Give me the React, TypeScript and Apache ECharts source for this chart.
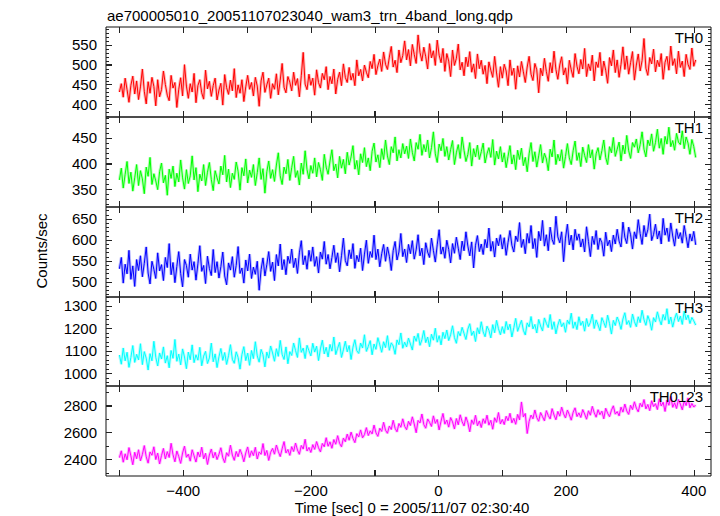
import React, { useEffect, useRef } from "react";
import * as echarts from "echarts";

const TITLE = "ae700005010_20051107023040_wam3_trn_4band_long.qdp";
const X_NAME = "Time [sec] 0 = 2005/11/07 02:30:40";
const Y_NAME = "Counts/sec";

const TIME_START = -500;
const TIME_STEP = 3;
const X_MIN = -521;
const X_MAX = 427;
const X_TICKS = [-500, -400, -300, -200, -100, 0, 100, 200, 300, 400];
const X_LABELS = [-400, -200, 0, 200, 400];

const BANDS = ["TH0", "TH1", "TH2", "TH3", "TH0123"];

const TH0 = [
  431, 452, 418, 466, 437, 405, 448, 471, 426, 459,
  412, 444, 489, 433, 401, 457, 428, 468, 445, 396,
  462, 419, 437, 484, 450, 423, 409, 473, 441, 455,
  392, 438, 467, 421, 500, 446, 415, 452, 431, 478,
  404, 447, 462, 429, 413, 486, 439, 458, 420, 447,
  466, 411, 436, 453, 398, 475, 442, 425, 461, 434,
  490, 417, 449, 428, 462, 407, 444, 473, 438, 455,
  421, 468, 446, 395, 459, 481, 430, 449, 466, 415,
  452, 438, 477, 424, 461, 503, 443, 429, 470, 456,
  434, 481, 448, 465, 419, 472, 531, 451, 437, 476,
  448, 466, 423, 487, 455, 441, 478, 462, 495, 437,
  470, 452, 489, 426, 463, 481, 447, 502, 468, 455,
  493, 461, 478, 447, 512, 472, 488, 459, 499, 481,
  467, 508, 490, 526, 475, 497, 514, 483, 532, 501,
  488, 519, 546, 494, 511, 480, 537, 505, 523, 560,
  512, 538, 497, 551, 526, 503, 575, 531, 509, 544,
  520, 489, 553, 517, 535, 498, 562, 524, 505, 541,
  483, 528, 509, 470, 537, 498, 516, 552, 487, 506,
  472, 519, 495, 533, 481, 502, 465, 527, 490, 511,
  476, 498, 452, 507, 486, 468, 521, 479, 443, 495,
  466, 501, 484, 447, 512, 473, 491, 438, 497, 469,
  508, 482, 455, 494, 521, 476, 460, 503, 487, 429,
  491, 472, 516, 483, 458, 505, 479, 534, 488, 463,
  499, 520, 474, 492, 451, 511, 487, 468, 528, 496,
  477, 513, 489, 541, 470, 502, 485, 524, 459, 507,
  493, 531, 472, 509, 486, 453, 518, 497, 537, 480,
  512, 468, 501, 545, 488, 522, 476, 505, 533, 461,
  499, 527, 484, 510, 566, 491, 473, 518, 502, 539,
  482, 511, 495, 528, 463, 506, 521, 486, 547, 498,
  515, 477, 534, 493, 509, 470, 526, 501, 488, 542,
  496, 512,
];

const TH1 = [
  368, 391, 352, 379, 404, 361, 383, 346, 372, 398,
  357, 386, 370, 341, 393, 375, 412, 359, 380, 366,
  349, 384, 401, 362, 377, 338, 389, 371, 395, 355,
  381, 364, 407, 372, 350, 388, 361, 376, 415, 368,
  392, 345, 379, 366, 398, 357, 383, 402, 369, 347,
  386, 372, 360, 395, 378, 416, 364, 389, 353, 381,
  369, 403, 385, 348, 392, 376, 409, 362, 387, 373,
  398, 357, 382, 411, 369, 390, 342, 384, 405, 371,
  388, 365, 397, 421, 376, 359, 393, 380, 408, 367,
  392, 414, 373, 386, 358, 401, 379, 425, 388, 370,
  396, 381, 411, 374, 402, 388, 367, 418, 393, 379,
  405, 427, 386, 399, 372, 414, 391, 408, 380, 422,
  397, 413, 435, 389, 406, 378, 419, 402, 431, 394,
  411, 386, 424, 440, 403, 417, 392, 429, 408, 446,
  415, 398, 433, 421, 452, 405, 427, 411, 439, 419,
  434, 410, 448, 422, 405, 441, 428, 457, 416, 437,
  423, 446, 411, 431, 462, 419, 402, 438, 425, 449,
  414, 433, 407, 427, 445, 398, 421, 437, 410, 452,
  426, 404, 418, 441, 395, 429, 413, 436, 408, 423,
  440, 401, 419, 431, 412, 447, 397, 424, 409, 433,
  403, 421, 392, 414, 435, 399, 417, 388, 426, 408,
  430, 396, 412, 384, 419, 441, 404, 423, 393, 415,
  437, 401, 420, 409, 386, 428, 413, 446, 398, 418,
  405, 427, 391, 414, 439, 411, 398, 425, 444, 406,
  421, 394, 432, 416, 402, 437, 411, 427, 389, 419,
  431, 407, 425, 446, 412, 398, 433, 421, 451, 414,
  428, 442, 405, 436, 419, 455, 425, 410, 441, 432,
  448, 421, 437, 462, 428, 413, 446, 435, 458, 424,
  441, 467, 430, 449, 418, 453, 438, 471, 433, 445,
  426, 459, 442, 437, 464, 429, 452, 440, 418, 447,
  433, 412,
];

const TH2 = [
  531, 558, 497, 542, 519, 575, 506, 538, 489, 553,
  527, 562, 512, 544, 583, 521, 495, 549, 530, 508,
  569, 526, 541, 503, 558, 534, 591, 517, 546, 498,
  537, 572, 520, 488, 553, 539, 511, 566, 528, 548,
  504, 543, 586, 525, 539, 496, 561, 532, 515, 577,
  522, 548, 509, 536, 571, 514, 493, 545, 528, 560,
  511, 539, 584, 520, 533, 497, 552, 526, 566, 508,
  535, 518, 549, 480, 529, 557, 514, 541, 572, 525,
  547, 503, 565, 538, 590, 529, 553, 517, 561, 544,
  578, 534, 556, 520, 569, 598, 541, 562, 530, 575,
  549, 583, 537, 560, 521, 571, 554, 596, 542, 565,
  531, 558, 587, 546, 569, 524, 562, 604, 551, 538,
  576, 555, 591, 532, 563, 548, 580, 527, 566, 599,
  544, 572, 558, 611, 553, 578, 536, 567, 589, 549,
  583, 561, 527, 574, 596, 552, 571, 615, 560, 578,
  546, 589, 567, 598, 554, 576, 612, 562, 580, 541,
  593, 571, 558, 604, 575, 547, 588, 624, 566, 583,
  556, 599, 577, 545, 591, 568, 606, 580, 553, 597,
  574, 619, 585, 562, 595, 533, 587, 610, 572, 590,
  565, 601, 581, 628, 573, 596, 559, 604, 586, 612,
  578, 605, 563, 594, 622, 587, 571, 609, 596, 641,
  582, 601, 567, 615, 592, 634, 579, 603, 558, 620,
  598, 646, 585, 612, 574, 630, 601, 589, 656, 607,
  593, 619, 548, 604, 637, 588, 611, 576, 625, 599,
  614, 583, 602, 571, 631, 596, 560, 608, 589, 622,
  577, 604, 593, 561, 618, 586, 599, 572, 611, 590,
  625, 597, 583, 642, 606, 591, 630, 612, 578, 619,
  603, 648, 615, 589, 634, 607, 624, 661, 598, 613,
  637, 602, 621, 590, 651, 611, 628, 596, 640, 609,
  585, 626, 603, 617, 592, 634, 608, 581, 614, 597,
  620, 588,
];

const TH3 = [
  1082, 1041, 1113, 1056, 1094, 1027, 1071, 1124, 1049, 1085,
  1060, 1132, 1039, 1097, 1068, 1015, 1088, 1056, 1143, 1072,
  1033, 1091, 1064, 1118, 1046, 1079, 1025, 1102, 1067, 1151,
  1054, 1086, 1038, 1109, 1073, 1021, 1095, 1061, 1127, 1048,
  1083, 1059, 1116, 1034, 1077, 1098, 1044, 1069, 1135, 1052,
  1087, 1026, 1074, 1111, 1058, 1093, 1040, 1079, 1128, 1063,
  1045, 1096, 1071, 1019, 1084, 1119, 1057, 1090, 1036, 1102,
  1066, 1141, 1078, 1050, 1107, 1083, 1029, 1095, 1068, 1122,
  1091, 1054, 1110, 1076, 1147, 1085, 1062, 1118, 1043, 1097,
  1080, 1135, 1102, 1071, 1158, 1094, 1113, 1066, 1125, 1101,
  1078, 1134, 1095, 1121, 1057, 1109, 1148, 1087, 1116, 1073,
  1129, 1099, 1162, 1084, 1112, 1138, 1071, 1105, 1143, 1096,
  1124, 1062, 1117, 1150, 1101, 1089, 1135, 1113, 1172, 1098,
  1120, 1146, 1083, 1131, 1107, 1159, 1127, 1094, 1141, 1115,
  1168, 1103, 1136, 1122, 1085, 1149, 1128, 1180, 1112, 1139,
  1118, 1157, 1131, 1104, 1166, 1143, 1178, 1125, 1150, 1191,
  1137, 1162, 1119, 1174, 1148, 1201, 1139, 1168, 1127, 1183,
  1155, 1193, 1146, 1172, 1212, 1160, 1134, 1186, 1167, 1205,
  1178, 1151, 1197, 1221, 1169, 1188, 1142, 1203, 1176, 1230,
  1185, 1163, 1210, 1192, 1158, 1217, 1181, 1236, 1199, 1172,
  1208, 1178, 1231, 1194, 1219, 1162, 1203, 1245, 1187, 1213,
  1236, 1192, 1171, 1225, 1207, 1253, 1198, 1218, 1180, 1240,
  1211, 1189, 1247, 1223, 1204, 1262, 1196, 1230, 1176, 1215,
  1241, 1208, 1225, 1183, 1237, 1219, 1268, 1201, 1229, 1195,
  1252, 1214, 1232, 1188, 1244, 1209, 1227, 1263, 1200, 1238,
  1216, 1190, 1248, 1227, 1204, 1259, 1222, 1175, 1236, 1213,
  1251, 1229, 1196, 1242, 1270, 1218, 1235, 1205, 1264, 1231,
  1208, 1252, 1226, 1281, 1239, 1214, 1257, 1233, 1192, 1248,
  1229, 1274, 1241, 1216, 1262, 1237, 1288, 1220, 1251, 1206,
  1243, 1268, 1231, 1255, 1218, 1277, 1239, 1260, 1222, 1249,
  1234, 1215,
];

const TH0123 = [
  2412, 2463, 2378, 2441, 2396, 2487, 2425, 2359, 2452, 2404,
  2471, 2388, 2436, 2502, 2419, 2371, 2455, 2430, 2493, 2398,
  2446, 2365, 2428, 2481, 2402, 2457, 2413, 2519, 2434, 2381,
  2462, 2420, 2369, 2447, 2498, 2415, 2438, 2386, 2471, 2426,
  2379, 2454, 2417, 2490, 2403, 2445, 2361, 2432, 2476, 2410,
  2452, 2398, 2437, 2486, 2411, 2375, 2449, 2423, 2505, 2431,
  2392, 2458, 2419, 2474, 2436, 2381, 2447, 2492, 2414, 2463,
  2427, 2489, 2402, 2455, 2437, 2517, 2428, 2466, 2391, 2452,
  2481, 2438, 2506, 2459, 2420, 2478, 2532, 2447, 2473, 2429,
  2494, 2458, 2521, 2469, 2437, 2503, 2476, 2549, 2462, 2488,
  2451, 2509, 2474, 2532, 2486, 2455, 2518, 2493, 2561, 2497,
  2530, 2482, 2547, 2512, 2576, 2519, 2493, 2558, 2531, 2588,
  2542, 2603, 2556, 2524, 2591, 2567, 2619, 2560, 2584, 2636,
  2577, 2612, 2589, 2655, 2598, 2571, 2632, 2608, 2676, 2617,
  2594, 2648, 2622, 2691, 2631, 2605, 2667, 2639, 2702, 2646,
  2621, 2683, 2652, 2717, 2664, 2598, 2690, 2671, 2738, 2659,
  2632, 2701, 2676, 2645, 2724, 2668, 2697, 2619, 2685, 2742,
  2662, 2693, 2640, 2711, 2679, 2626, 2704, 2657, 2732, 2681,
  2649, 2716, 2673, 2605, 2694, 2661, 2728, 2650, 2686, 2637,
  2702, 2668, 2729, 2655, 2691, 2624, 2710, 2676, 2749, 2664,
  2697, 2659, 2721, 2688, 2743, 2672, 2705, 2661, 2735, 2694,
  2828, 2716, 2742, 2592, 2683, 2730, 2702, 2768, 2711, 2684,
  2749, 2718, 2687, 2763, 2726, 2701, 2778, 2731, 2695, 2757,
  2722, 2789, 2740, 2708, 2767, 2733, 2692, 2751, 2784, 2719,
  2746, 2712, 2771, 2738, 2699, 2762, 2729, 2795, 2748, 2714,
  2770, 2733, 2759, 2702, 2781, 2744, 2718, 2766, 2799, 2737,
  2756, 2724, 2789, 2752, 2812, 2761, 2735, 2803, 2771, 2829,
  2782, 2754, 2818, 2791, 2846, 2776, 2809, 2763, 2837, 2794,
  2815, 2771, 2852, 2798, 2826, 2757, 2841, 2803, 2869, 2788,
  2822, 2779, 2846, 2812, 2769, 2835, 2801, 2858, 2784, 2817,
  2790, 2806,
];

const SERIES_VALUES = [TH0, TH1, TH2, TH3, TH0123];

const Y_MINS = [368, 315, 464, 944, 2275];
const Y_MAXS = [595, 491, 678, 1340, 2947];
const Y_TICKS = [
  [400, 450, 500, 550],
  [350, 400, 450],
  [500, 550, 600, 650],
  [1000, 1100, 1200, 1300],
  [2400, 2600, 2800],
];
const Y_MINOR_STEPS = [10, 10, 10, 20, 100];

// styles / layout
const COLORS = ["#ff0000", "#00ff00", "#0000ff", "#00ffff", "#ff00ff"];
const PANEL_TOPS = [27, 117, 207, 297, 386];
const PANEL_BOTTOMS = [117, 207, 297, 386, 476];
const LEFT = 106;
const RIGHT_EDGE = 711;
const W = 720;
const H = 516;
const FONT = "'Liberation Sans', Arial, Helvetica, sans-serif";
const FS = 15;
const TICK_COLOR = "#222222";

function minorValues(min: number, max: number, step: number): number[] {
  const out: number[] = [];
  for (let v = Math.ceil(min / step) * step; v <= max; v += step) out.push(v);
  return out;
}

const fmtX = (v: number) => (v < 0 ? "\u2212" + Math.abs(v) : String(v));
const fmtY = (v: number) => String(v);

function tickRect(x: number, y: number, width: number, height: number) {
  return {
    type: "rect",
    z: 100,
    shape: { x, y, width, height },
    style: { fill: TICK_COLOR },
  };
}

export default function App() {
  const ref = useRef<HTMLDivElement>(null);
  useEffect(() => {
    if (!ref.current) return;
    const chart = echarts.init(ref.current, undefined, { renderer: "svg" });
    const grids: any[] = [];
    const xAxes: any[] = [];
    const yAxes: any[] = [];
    const series: any[] = [];
    const graphics: any[] = [];

    BANDS.forEach((band, i) => {
      grids.push({
        left: LEFT,
        width: RIGHT_EDGE - LEFT,
        top: PANEL_TOPS[i],
        height: PANEL_BOTTOMS[i] - PANEL_TOPS[i],
        show: true,
        z: 0,
        backgroundColor: "transparent",
        borderColor: "#111",
        borderWidth: 1,
      });
      const isLast = i === BANDS.length - 1;
      xAxes.push({
        type: "value",
        gridIndex: i,
        position: "bottom",
        min: X_MIN,
        max: X_MAX,
        z: 20,
        axisLine: { show: false, onZero: false },
        splitLine: { show: false },
        axisTick: {
          show: true,
          inside: true,
          length: 6,
          customValues: X_TICKS,
          lineStyle: { color: TICK_COLOR, width: 1 },
        },
        axisLabel: {
          show: isLast,
          customValues: X_LABELS,
          formatter: fmtX,
          margin: 7,
          color: "#000",
          fontSize: FS,
          fontFamily: FONT,
        },
      });
      yAxes.push({
        type: "value",
        gridIndex: i,
        position: "left",
        min: Y_MINS[i],
        max: Y_MAXS[i],
        z: 20,
        axisLine: { show: false, onZero: false },
        splitLine: { show: false },
        axisTick: {
          show: true,
          inside: true,
          length: 6,
          customValues: Y_TICKS[i],
          lineStyle: { color: TICK_COLOR, width: 1 },
        },
        axisLabel: {
          show: true,
          customValues: Y_TICKS[i],
          formatter: fmtY,
          margin: 9,
          color: "#000",
          fontSize: FS,
          fontFamily: FONT,
        },
      });

      const points = SERIES_VALUES[i].map((v, k) => [TIME_START + k * TIME_STEP, v]);
      // light halo imitating the error bars
      series.push({
        type: "line",
        xAxisIndex: i,
        yAxisIndex: i,
        data: points,
        showSymbol: false,
        symbol: "none",
        silent: true,
        lineStyle: { color: COLORS[i], width: 3, opacity: 0.28 },
        z: 1,
      });
      series.push({
        type: "line",
        xAxisIndex: i,
        yAxisIndex: i,
        data: points,
        showSymbol: false,
        symbol: "none",
        lineStyle: { color: COLORS[i], width: 1 },
        itemStyle: { color: COLORS[i] },
        z: 2,
      });

      graphics.push({
        type: "text",
        x: 703,
        y: PANEL_TOPS[i] + 3,
        z: 100,
        style: {
          text: band,
          align: "right",
          verticalAlign: "top",
          fill: "#000",
          font: `${FS}px ${FONT}`,
        },
      });
    });

    graphics.push({
      type: "text",
      x: 41,
      y: 251,
      rotation: Math.PI / 2,
      style: {
        text: Y_NAME,
        align: "center",
        verticalAlign: "middle",
        fill: "#000",
        font: `${FS}px ${FONT}`,
      },
    });
    graphics.push({
      type: "text",
      x: 412,
      y: 507,
      style: {
        text: X_NAME,
        align: "center",
        verticalAlign: "middle",
        fill: "#000",
        font: `${FS}px ${FONT}`,
      },
    });
    graphics.push({
      type: "text",
      x: 107,
      y: 15,
      style: {
        text: TITLE,
        align: "left",
        verticalAlign: "middle",
        fill: "#000",
        font: `${FS}px ${FONT}`,
      },
    });

    chart.setOption({
      animation: false,
      backgroundColor: "#ffffff",
      grid: grids,
      xAxis: xAxes,
      yAxis: yAxes,
      series,
    });

    // tick marks (small filled bars), placed through the axes' own scales
    BANDS.forEach((_, i) => {
      const finder: any = { gridIndex: i };
      const tl = chart.convertToPixel(finder, [X_MIN, Y_MAXS[i]]) as any;
      const br = chart.convertToPixel(finder, [X_MAX, Y_MINS[i]]) as any;
      if (!tl || !br) return;
      const xL = Math.round(tl[0]);
      const xR = Math.round(br[0]);
      const yT = Math.round(tl[1]);
      const yB = Math.round(br[1]);
      const minors = minorValues(Y_MINS[i], Y_MAXS[i], Y_MINOR_STEPS[i]);
      minors.forEach((v) => {
        const len = Y_TICKS[i].indexOf(v) >= 0 ? 6 : 3;
        const p = chart.convertToPixel(finder, [X_MIN, v]) as any;
        if (!p) return;
        const y = Math.round(p[1]);
        graphics.push(tickRect(xL, y, len, 1));
        graphics.push(tickRect(xR - len, y, len, 1));
      });
      X_TICKS.forEach((t) => {
        const p = chart.convertToPixel(finder, [t, Y_MINS[i]]) as any;
        if (!p) return;
        const x = Math.round(p[0]);
        graphics.push(tickRect(x, yT, 1, 6));
        graphics.push(tickRect(x, yB - 6, 1, 6));
      });
    });

    chart.setOption({ graphic: graphics });
    return () => chart.dispose();
  }, []);
  return (
    <div
      ref={ref}
      style={{ position: "fixed", left: 0, top: 0, width: W, height: H }}
    />
  );
}
